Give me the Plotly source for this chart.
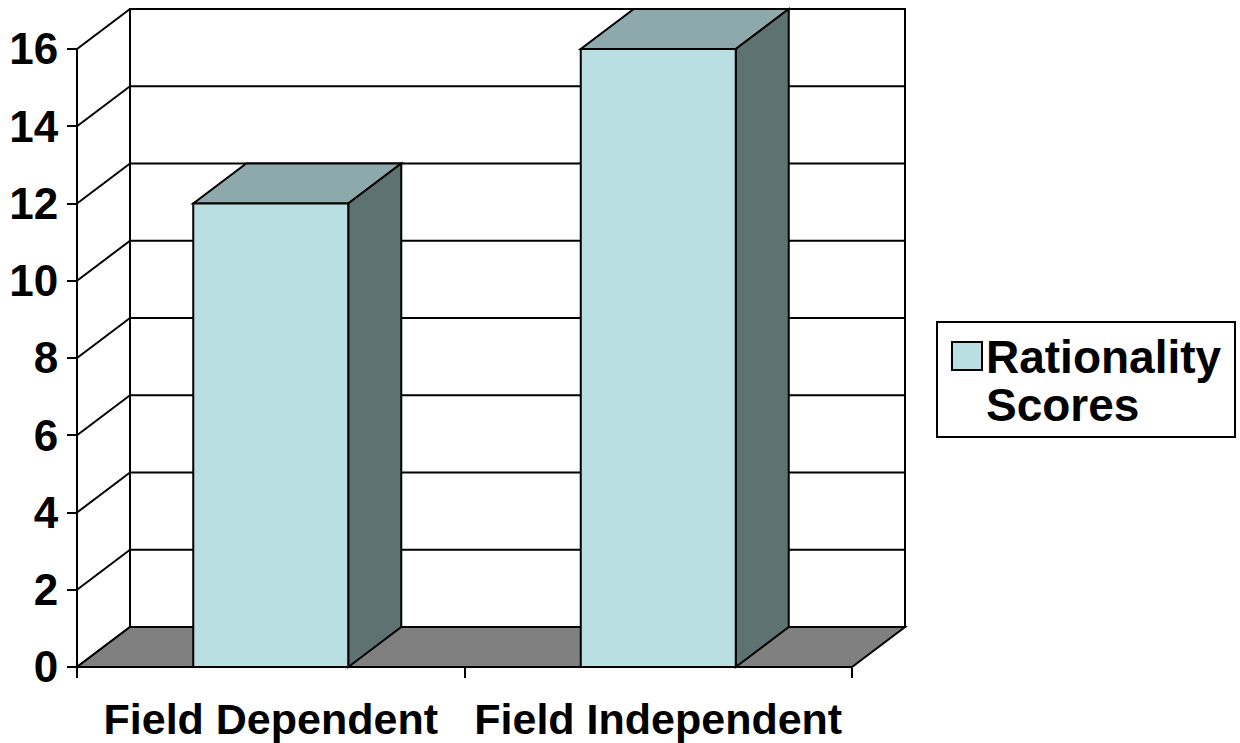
import plotly.graph_objects as go

# --- data -------------------------------------------------------------
categories = ["Field Dependent", "Field Independent"]
scores = [12, 16]
y_ticks = [0, 2, 4, 6, 8, 10, 12, 14, 16]
series_name = "Rationality Scores"

# --- styling / geometry ----------------------------------------------
FRONT = "#BADFE2"
TOP = "#8EA9AB"
SIDE = "#5E7173"
FLOOR = "#808080"
FONT = "Arial, Liberation Sans, sans-serif"

W, H = 1240, 743
PX_X = 387.5          # pixels per category unit
PX_Y = 38.625         # pixels per score unit
DX = 53 / PX_X        # depth offset in x (data units)
DY = 40 / PX_Y        # depth offset in y (data units)
PAD = 6               # pixels of room so edge lines are not clipped
BAR_W = 0.4
YMAX = max(y_ticks)
NCAT = len(categories)

X0, X1 = -PAD / PX_X, NCAT + DX + PAD / PX_X
Y0, Y1 = -PAD / PX_Y, YMAX + DY + PAD / PX_Y
plot_w = (X1 - X0) * PX_X
plot_h = (Y1 - Y0) * PX_Y
M_L, M_T = 71, 3
M_R = W - M_L - plot_w
M_B = H - M_T - plot_h

xs = [i + 0.5 for i in range(NCAT)]


def poly(points, fill, layer="below"):
    path = "M " + " L ".join(f"{x},{y}" for x, y in points) + " Z"
    return dict(type="path", path=path, xref="x", yref="y",
                fillcolor=fill, line=dict(color="black", width=2), layer=layer)


def seg(x0, y0, x1, y1):
    return dict(type="line", x0=x0, y0=y0, x1=x1, y1=y1, xref="x", yref="y",
                line=dict(color="black", width=2), layer="below")


def px2paper_x(px):
    return (px - M_L) / plot_w


def px2paper_y(py):
    return (H - M_B - py) / plot_h


shapes = []
# back wall
shapes.append(poly([(DX, DY), (NCAT + DX, DY), (NCAT + DX, YMAX + DY), (DX, YMAX + DY)], "white"))
# back-wall gridlines and side-wall diagonals
for v in y_ticks:
    shapes.append(seg(DX, v + DY, NCAT + DX, v + DY))
    shapes.append(seg(0, v, DX, v + DY))
# front value axis line
shapes.append(seg(0, 0, 0, YMAX))
# floor
shapes.append(poly([(0, 0), (NCAT, 0), (NCAT + DX, DY), (DX, DY)], FLOOR))
# bar tops and sides
for x, v in zip(xs, scores):
    l, r = x - BAR_W / 2, x + BAR_W / 2
    shapes.append(poly([(l, v), (r, v), (r + DX, v + DY), (l + DX, v + DY)], TOP))
    shapes.append(poly([(r, 0), (r + DX, DY), (r + DX, v + DY), (r, v)], SIDE))

# legend box
shapes.append(dict(type="rect", xref="paper", yref="paper",
                   x0=px2paper_x(937), x1=px2paper_x(1235),
                   y0=px2paper_y(437), y1=px2paper_y(322),
                   line=dict(color="black", width=2), fillcolor="white"))
shapes.append(dict(type="rect", xref="paper", yref="paper",
                   x0=px2paper_x(952), x1=px2paper_x(982),
                   y0=px2paper_y(370), y1=px2paper_y(342),
                   line=dict(color="black", width=2), fillcolor=FRONT))

legend_lines = series_name.split(" ")
LEG_FONT = dict(family=FONT, size=46, color="black")
annotations = [
    dict(text=f"<b>{legend_lines[0]}</b>", xref="paper", yref="paper",
         x=px2paper_x(984), y=px2paper_y(357), xanchor="left", yanchor="middle",
         showarrow=False, font=LEG_FONT),
    dict(text=f"<b>{legend_lines[1]}</b>", xref="paper", yref="paper",
         x=px2paper_x(984), y=px2paper_y(405), xanchor="left", yanchor="middle",
         showarrow=False, font=LEG_FONT),
]

fig = go.Figure()
fig.add_trace(go.Bar(
    x=xs, y=scores, width=BAR_W, name=series_name,
    marker=dict(color=FRONT, line=dict(color="black", width=2)),
    showlegend=False, hoverinfo="skip",
))
# invisible trace carrying the category-label axis
fig.add_trace(go.Scatter(x=xs, y=[0] * NCAT, xaxis="x2", mode="markers",
                         marker=dict(opacity=0), showlegend=False, hoverinfo="skip"))

x_pos = PAD / plot_h
fig.update_layout(
    width=W, height=H,
    margin=dict(l=M_L, r=M_R, t=M_T, b=M_B, autoexpand=False),
    plot_bgcolor="white", paper_bgcolor="white",
    showlegend=False,
    shapes=shapes,
    annotations=annotations,
    xaxis=dict(range=[X0, X1], anchor="free", position=x_pos, automargin=False,
               tickvals=list(range(NCAT + 1)), ticktext=[""] * (NCAT + 1),
               ticks="outside", ticklen=10, tickwidth=2, tickcolor="black",
               showgrid=False, zeroline=False, showline=False),
    # category labels sit a little lower than the tick marks
    xaxis2=dict(range=[X0, X1], overlaying="x", anchor="free", position=x_pos,
                automargin=False, side="bottom", tickvals=xs, ticktext=categories,
                ticks="outside", ticklen=14, tickcolor="rgba(0,0,0,0)",
                tickfont=dict(family=FONT, size=43, color="black", weight="bold"),
                showgrid=False, zeroline=False, showline=False),
    yaxis=dict(range=[Y0, Y1], anchor="free", position=PAD / plot_w, automargin=False,
               tickvals=y_ticks, ticks="outside", ticklen=10, tickwidth=2,
               tickcolor="black",
               tickfont=dict(family=FONT, size=44, color="black", weight="bold"),
               showgrid=False, zeroline=False, showline=False),
)

fig.write_html("out.html")
